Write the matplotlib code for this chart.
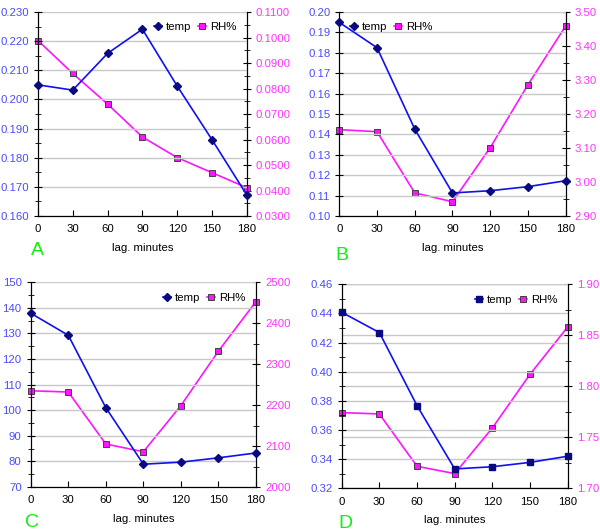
import matplotlib
matplotlib.use("Agg")
import matplotlib.pyplot as plt
from matplotlib.ticker import MultipleLocator, FormatStrFormatter
from matplotlib.lines import Line2D

plt.rcParams['font.family'] = ['Liberation Sans', 'DejaVu Sans']

lag = [0, 30, 60, 90, 120, 150, 180]

# panel A
temp_a = [0.2050, 0.2032, 0.2158, 0.2241, 0.2046, 0.1862, 0.1672]
rh_a = [0.0988, 0.0859, 0.0739, 0.0610, 0.0529, 0.0470, 0.0411]
# panel B
temp_b = [0.1949, 0.1825, 0.1426, 0.1113, 0.1124, 0.1144, 0.1173]
rh_b = [3.154, 3.148, 2.968, 2.942, 3.101, 3.286, 3.459]
# panel C
temp_c = [137.9, 129.3, 101.0, 78.9, 79.7, 81.4, 83.3]
rh_c = [2235, 2232, 2105, 2086, 2199, 2332, 2453]
# panel D
temp_d = [0.4408, 0.4269, 0.3767, 0.3333, 0.3348, 0.3378, 0.3420]
rh_d = [1.7742, 1.7729, 1.7216, 1.7144, 1.7592, 1.8118, 1.8582]

BLUE = '#1010f0'
NAVY = '#0a0a80'
MAG = '#ff14ff'
LBLUE = '#4b4bff'
LMAG = '#ff33ff'
GRID = '#c8c8c8'
FS = 8.2

panels = [
    dict(letter='A', rect=[0.0633, 0.5932, 0.348, 0.3842], temp=temp_a, rh=rh_a,
         llim=(0.160, 0.230), lstep=0.01, lfmt='%.3f', rlim=(0.03, 0.11), rstep=0.01, rfmt='%.4f',
         tm='D', loc='upper right', lminor=True, rgrid=False, txy=(0.0617, 0.5198)),
    dict(letter='B', rect=[0.5655, 0.5932, 0.3773, 0.3842], temp=temp_b, rh=rh_b,
         llim=(0.10, 0.20), lstep=0.01, lfmt='%.2f', rlim=(2.90, 3.50), rstep=0.1, rfmt='%.2f',
         tm='D', loc='upper left', lminor=False, rgrid=False, txy=(0.57, 0.5104)),
    dict(letter='C', rect=[0.0512, 0.0829, 0.3755, 0.3855], temp=temp_c, rh=rh_c,
         llim=(70, 150), lstep=10, lfmt='%d', rlim=(2000, 2500), rstep=100, rfmt='%d',
         tm='D', loc='upper right', lminor=True, rgrid=False, txy=(0.053, 0.0075)),
    dict(letter='D', rect=[0.5695, 0.0804, 0.3767, 0.3842], temp=temp_d, rh=rh_d,
         llim=(0.32, 0.46), lstep=0.02, lfmt='%.2f', rlim=(1.70, 1.90), rstep=0.05, rfmt='%.2f',
         tm='s', loc='upper right', lminor=True, rgrid=True, txy=(0.575, 0.0056)),
]

fig = plt.figure(figsize=(6, 5.31), dpi=100)

for p in panels:
    ax = fig.add_axes(p['rect'])
    ax2 = ax.twinx()
    ax.set_zorder(ax2.get_zorder() + 1)
    ax.patch.set_visible(False)

    ax.set_xlim(0, 180)
    ax.set_xticks(lag)
    ax.set_ylim(*p['llim'])
    ax.yaxis.set_major_locator(MultipleLocator(p['lstep']))
    if p['lminor']:
        ax.yaxis.set_minor_locator(MultipleLocator(p['lstep'] / 2))
    ax.yaxis.set_major_formatter(FormatStrFormatter(p['lfmt']))
    ax.grid(axis='y', color=GRID, linewidth=1.0)
    ax.set_axisbelow(True)

    ax2.set_ylim(*p['rlim'])
    ax2.yaxis.set_major_locator(MultipleLocator(p['rstep']))
    ax2.yaxis.set_minor_locator(MultipleLocator(p['rstep'] / 2))
    ax2.yaxis.set_major_formatter(FormatStrFormatter(p['rfmt']))
    if p['rgrid']:
        ax2.grid(axis='y', color=GRID, linewidth=1.0)

    tms = 3.8 if p['tm'] == 'D' else 4.2
    ax.plot(lag, p['temp'], color=BLUE, lw=1.2, marker=p['tm'],
            ms=tms, mfc=NAVY, mec=NAVY, zorder=5, clip_on=False)
    ax2.plot(lag, p['rh'], color=MAG, lw=1.2, marker='s', ms=4.2,
             mfc=MAG, mec='#404040', mew=0.7, clip_on=False)

    for a in (ax, ax2):
        for s in a.spines.values():
            s.set_color('black')
        a.spines['top'].set_visible(False)
    ax.tick_params(axis='x', direction='in', length=4, labelsize=FS, pad=6)
    ax.tick_params(axis='y', which='major', direction='inout', length=6, labelsize=FS,
                   labelcolor=LBLUE)
    ax.tick_params(axis='y', which='minor', direction='inout', length=4)
    ax2.tick_params(axis='y', which='major', direction='inout', length=6, labelsize=FS,
                    labelcolor=LMAG)
    ax2.tick_params(axis='y', which='minor', direction='inout', length=4)

    ax.set_xlabel('lag. minutes', fontsize=FS, labelpad=6)

    handles = [
        Line2D([], [], color=BLUE, lw=1.2, marker=p['tm'], ms=tms, mfc=NAVY, mec=NAVY),
        Line2D([], [], color=MAG, lw=1.2, marker='s', ms=4.2, mfc=MAG, mec='#404040', mew=0.7),
    ]
    ax.legend(handles, ['temp', 'RH%'], loc=p['loc'], frameon=False, ncol=2,
              fontsize=FS, handlelength=0.7, columnspacing=0.6, handletextpad=0.35,
              borderaxespad=0.5)

    fig.text(p['txy'][0], p['txy'][1], p['letter'], color='#11ee11', fontsize=14,
             ha='center', va='baseline')

fig.savefig('out.png', dpi=100)
